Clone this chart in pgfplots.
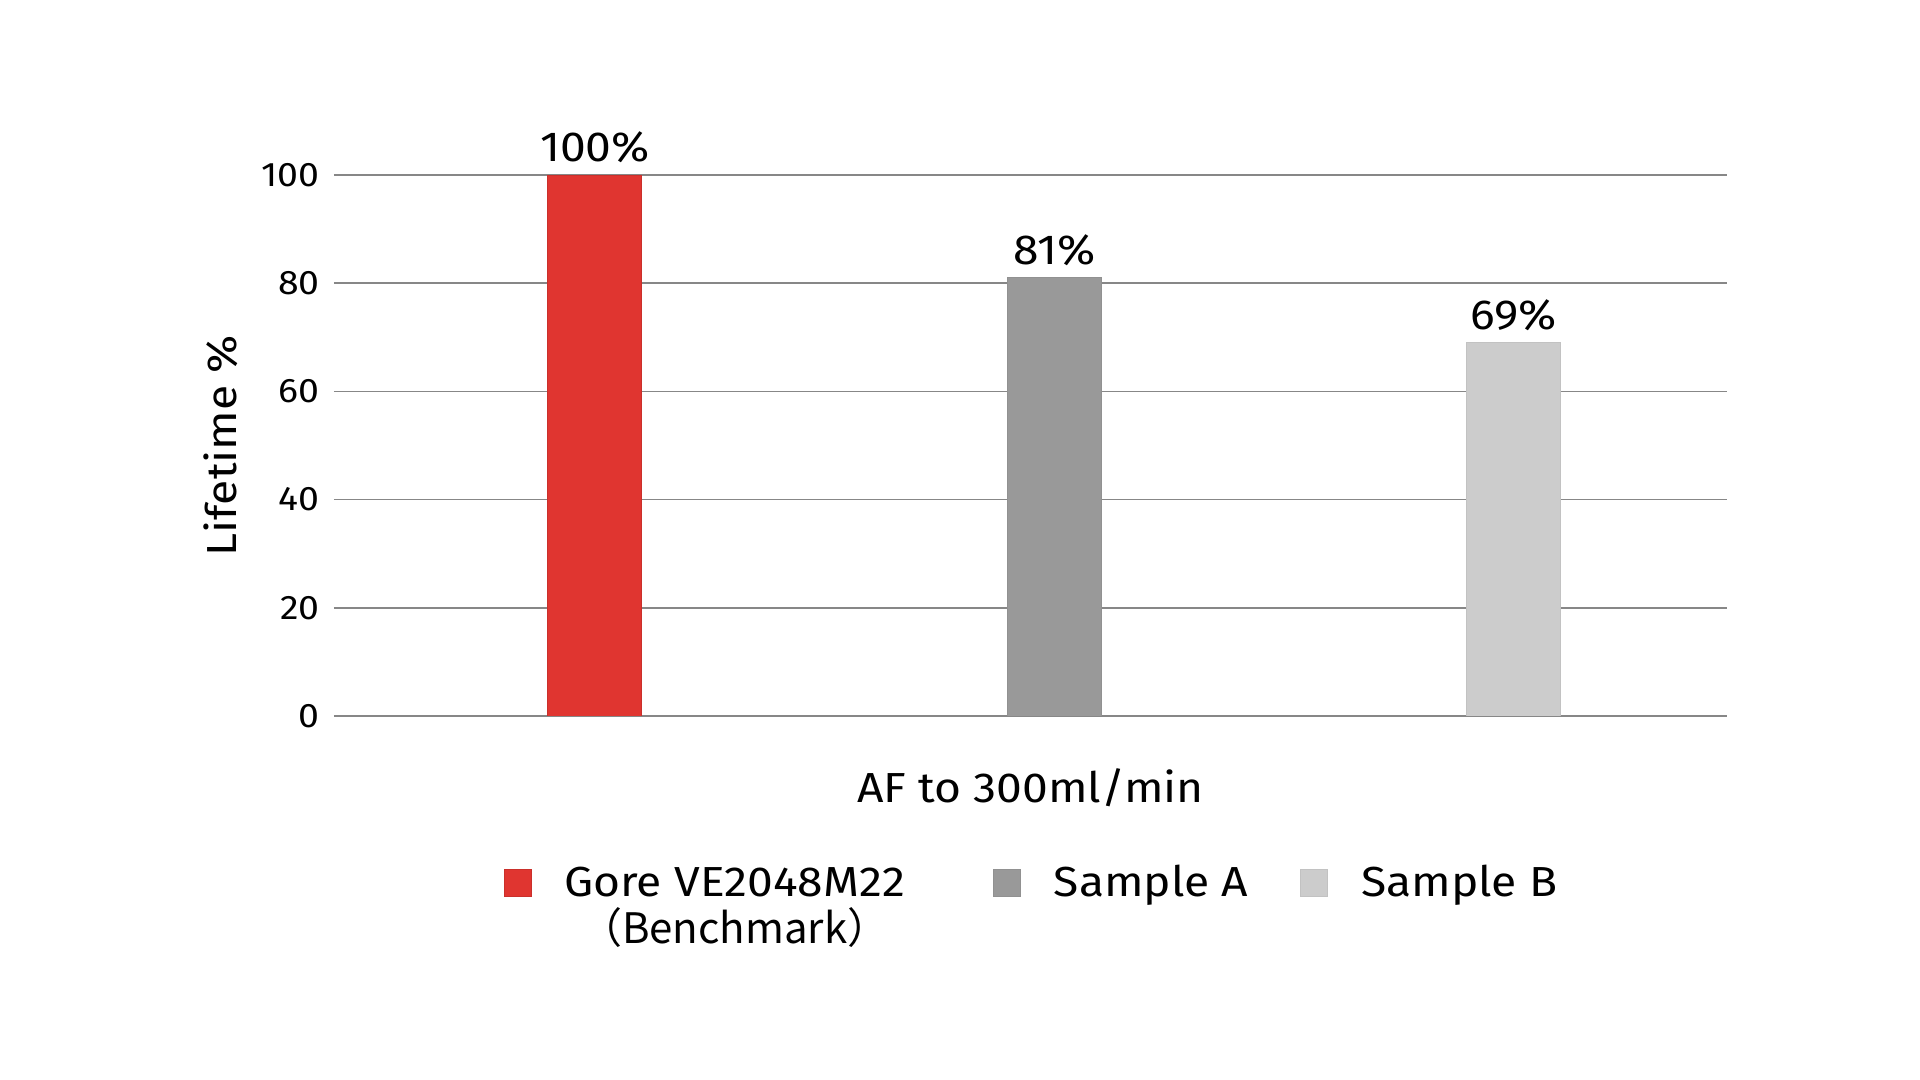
\documentclass[border=0pt]{standalone}
\usepackage{pgfplots}
\pgfplotsset{compat=1.18}
\usepackage{fontspec}
\setmainfont[FakeStretch=1.1]{Fira Sans}
\newfontfamily\cjk{Noto Sans CJK SC}
\definecolor{goreRed}{RGB}{224,53,48}
\definecolor{sampA}{RGB}{153,153,153}
\definecolor{sampB}{RGB}{204,204,204}
\definecolor{gridc}{RGB}{135,135,135}
\newcommand{\bigfont}{\fontsize{21}{23}\selectfont}
\begin{document}
\begin{tikzpicture}
\useasboundingbox (-167pt,-182pt) rectangle (793pt,358pt);
\begin{axis}[
  at={(0pt,0pt)}, anchor=south west,
  scale only axis, width=696.5pt, height=270.5pt,
  xmin=-0.568, xmax=2.465, ymin=0, ymax=100,
  ytick={0,20,40,60,80,100}, xtick=\empty,
  ymajorgrids, grid style={gridc, line width=0.8pt},
  axis line style={draw=none},
  major tick length=0pt,
  /pgf/number format/assume math mode=true,
  yticklabel style={font=\fontsize{17}{20}\selectfont, inner sep=0pt, xshift=-7pt},
  xlabel={AF to 300ml/min},
  xlabel style={at={(axis description cs:0.5,0)}, anchor=base, yshift=-43pt, font=\bigfont},
  ylabel={Lifetime \%},
  ylabel style={at={(axis description cs:-0.0703,0.5)}, anchor=base, font=\bigfont},
  ybar, bar width=47pt,
  nodes near coords={\pgfmathprintnumber{\pgfplotspointmeta}\%},
  nodes near coords style={font=\bigfont, anchor=south, inner sep=0pt, yshift=6pt},
  legend columns=3,
  legend style={at={(axis description cs:0.5,0)}, anchor=north, yshift=-74pt,
    draw=none, fill=none, inner sep=0pt, font=\bigfont,
    nodes={inner sep=0pt}, cells={anchor=base west},
    /tikz/column 1/.style={column sep=16.5pt},
    /tikz/column 2/.style={column sep=44pt},
    /tikz/column 3/.style={column sep=16.5pt},
    /tikz/column 4/.style={column sep=26pt},
    /tikz/column 5/.style={column sep=16.5pt}},
  legend image code/.code={\fill[#1] (0pt,0pt) rectangle (13.5pt,13.5pt);},
]
\addplot[fill=goreRed, draw=goreRed!90!black, bar shift=0pt] coordinates {(0,100)};
\addlegendentry{\begin{tabular}[t]{@{}c@{}}Gore VE2048M22\\[-1.5pt]\cjk{（}Benchmark\cjk{）}\end{tabular}}
\addplot[fill=sampA, draw=sampA!95!black, bar shift=0pt] coordinates {(1,81)};
\addlegendentry{Sample A}
\addplot[fill=sampB, draw=sampB!95!black, bar shift=0pt] coordinates {(2,69)};
\addlegendentry{Sample B}
\end{axis}
\end{tikzpicture}
\end{document}
